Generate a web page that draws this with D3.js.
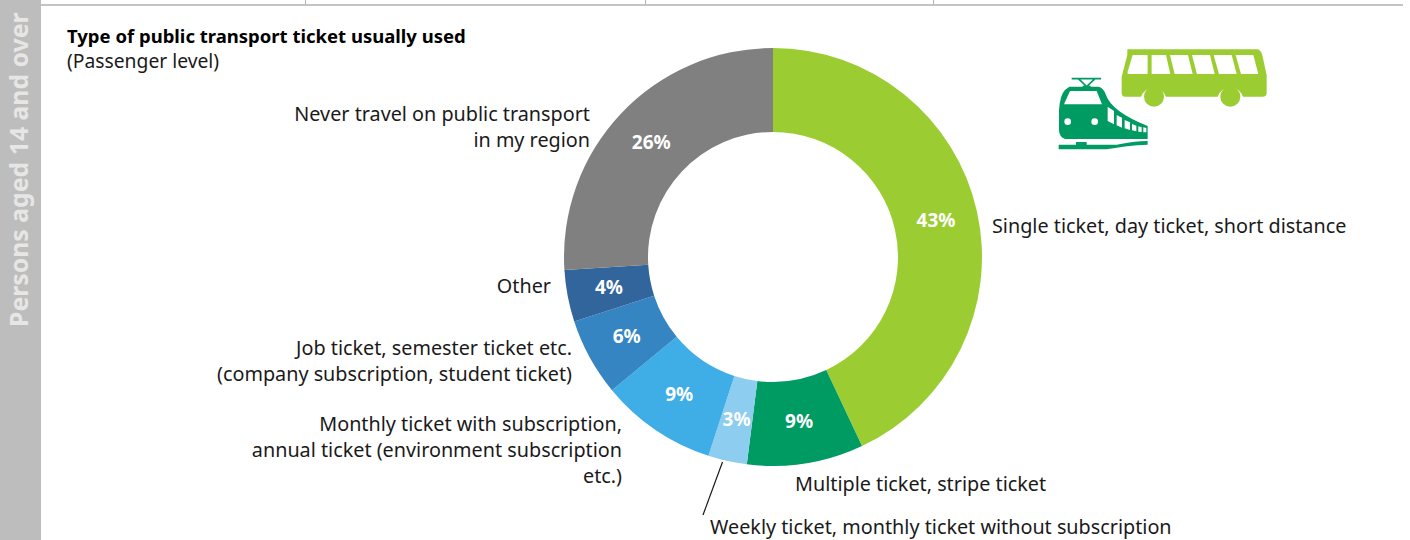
<!DOCTYPE html>
<html>
<meta charset="utf-8">
<style>
body { margin: 0; background: #fff; }
svg { display: block; font-family: "Noto Sans", sans-serif; }
.label { font-size: 19.8px; fill: #1a1a1a; }
.pct { font-size: 19px; font-weight: 700; fill: #fff; text-anchor: middle; }
.title { font-size: 18.5px; font-weight: 700; fill: #000; }
.sub { font-size: 19.3px; fill: #1a1a1a; }
.side { font-size: 24.8px; font-weight: 700; fill: #e6e6e6; }
</style>
<body>
<script src="https://cdn.jsdelivr.net/npm/d3@7"></script>
<script>

var categories = [
  "Single ticket, day ticket, short distance",
  "Multiple ticket, stripe ticket",
  "Weekly ticket, monthly ticket without subscription",
  "Monthly ticket with subscription, annual ticket (environment subscription etc.)",
  "Job ticket, semester ticket etc. (company subscription, student ticket)",
  "Other",
  "Never travel on public transport in my region"
];
var values = [43, 9, 3, 9, 6, 4, 26];
var colors = ["#9bcd32", "#009a63", "#8ccdf0", "#3fade6", "#3585c3", "#31659b", "#808080"];

// label lines, split the way the reference wraps them
var labelLines = [
  ["Single ticket, day ticket, short distance"],
  ["Multiple ticket, stripe ticket"],
  ["Weekly ticket, monthly ticket without subscription"],
  ["Monthly ticket with subscription,", "annual ticket (environment subscription", "etc.)"],
  ["Job ticket, semester ticket etc.", "(company subscription, student ticket)"],
  ["Other"],
  ["Never travel on public transport", "in my region"]
];
var labelPos = [
  {x: 992, y: 233, anchor: "start"},
  {x: 795, y: 491, anchor: "start"},
  {x: 710, y: 534, anchor: "start"},
  {x: 622, y: 431, anchor: "end"},
  {x: 572, y: 355, anchor: "end"},
  {x: 551, y: 293, anchor: "end"},
  {x: 590, y: 121, anchor: "end"}
];

var width = 1410, height = 540, cx = 773, cy = 257, outer = 209, inner = 125;

var svg = d3.select("body").append("svg")
    .attr("width", width)
    .attr("height", height);

// frame: side band and top rule
svg.append("rect").attr("x", 0).attr("y", 0).attr("width", 41).attr("height", height).attr("fill", "#bdbdbd");
svg.append("rect").attr("x", 41).attr("y", 4).attr("width", width - 41 - 7).attr("height", 2).attr("fill", "#c4c4c4");
[305, 645, 933].forEach(function(x) {
  svg.append("line").attr("x1", x + 0.5).attr("x2", x + 0.5).attr("y1", 0).attr("y2", 5).attr("stroke", "#b5b5b5");
});
svg.append("text").attr("class", "side")
    .attr("transform", "translate(28,327) rotate(-90)")
    .text("Persons aged 14 and over");

svg.append("text").attr("class", "title").attr("x", 67).attr("y", 43).text("Type of public transport ticket usually used");
svg.append("text").attr("class", "sub").attr("x", 67).attr("y", 68).text("(Passenger level)");

var pie = d3.pie().sort(null).value(function(d) { return d; });
var arc = d3.arc().innerRadius(inner).outerRadius(outer);

var ring = svg.append("g").attr("transform", "translate(" + cx + "," + cy + ")");

ring.selectAll(".slice")
  .data(pie(values))
  .enter()
  .append("path")
  .attr("class", "slice")
  .attr("d", arc)
  .attr("fill", function(d, i) { return colors[i]; });

ring.selectAll(".pct")
  .data(pie(values))
  .enter()
  .append("text")
  .attr("class", "pct")
  .attr("x", function(d) { return arc.centroid(d)[0]; })
  .attr("y", function(d) { return arc.centroid(d)[1] + 6; })
  .text(function(d) { return d.data + "%"; });

var labels = svg.selectAll(".label")
  .data(categories)
  .enter()
  .append("text")
  .attr("class", "label")
  .attr("text-anchor", function(d, i) { return labelPos[i].anchor; });

labels.each(function(d, i) {
  d3.select(this).selectAll("tspan")
    .data(labelLines[i])
    .enter()
    .append("tspan")
    .attr("x", labelPos[i].x)
    .attr("y", function(l, j) { return labelPos[i].y + j * 26; })
    .text(function(l) { return l; });
});

// leader for the 3% slice
svg.append("line")
    .attr("x1", 722.5).attr("y1", 462).attr("x2", 703).attr("y2", 515)
    .attr("stroke", "#1a1a1a").attr("stroke-width", 1.2);

// bus and train pictogram, drawn in the zoomed crop's units
var icon = svg.append("g").attr("transform", "translate(1040,30) scale(0.3333)");

icon.append("path").attr("fill", "#9bcd32")
    .attr("d", "M262 58H650Q662 58 667 75L680 135V188Q680 200 668 200H609A40 40 0 0 0 533 200H378A40 40 0 0 0 303 200H255Q245 200 245 188V140L262 75Z");
icon.selectAll(".wheel").data([[342, 200], [571, 200]]).enter().append("circle")
    .attr("cx", function(d) { return d[0]; }).attr("cy", function(d) { return d[1]; })
    .attr("r", 30).attr("fill", "#9bcd32");
icon.selectAll(".win").data([
    "M278 75H323V132H263V125Z",
    "M335 75H378L391 132H335Z",
    "M390 75H444L458 132H404Z",
    "M456 75H510L524 132H471Z",
    "M521 75H575L590 132H537Z",
    "M587 75H640L655 132H603Z"
  ]).enter().append("path").attr("d", function(d) { return d; }).attr("fill", "#fff");

icon.append("path").attr("fill", "#009a63")
    .attr("d", "M88 170H175Q190 172 198 195Q215 245 323 288V327H75Q58 322 57 300V240Q60 195 75 180Z");
icon.append("path").attr("fill", "#fff").attr("d", "M90 183H170L186 223H72Z");
icon.selectAll(".lamp").data([[83, 275], [164, 275]]).enter().append("circle")
    .attr("cx", function(d) { return d[0]; }).attr("cy", function(d) { return d[1]; })
    .attr("r", 10).attr("fill", "#fff");
icon.selectAll(".side-win").data([
    "M203 230L222 243V283L203 273Z",
    "M230 255L246 263V293L230 286Z",
    "M254 270L270 277V300L254 295Z",
    "M276 282L289 287V304L276 301Z",
    "M295 289L305 292V306L295 305Z",
    "M310 292L319 294V307L310 307Z"
  ]).enter().append("path").attr("d", function(d) { return d; }).attr("fill", "#fff");
icon.append("path").attr("fill", "#009a63")
    .attr("d", "M56 344H108V336H140V344H230Q280 334 323 333V344Q260 346 200 358H56Z");
icon.append("path").attr("fill", "none").attr("stroke", "#009a63").attr("stroke-width", 5)
    .attr("d", "M95 146H183M115 146L140 170L165 146M128 170H152");

</script>
</body>
</html>
